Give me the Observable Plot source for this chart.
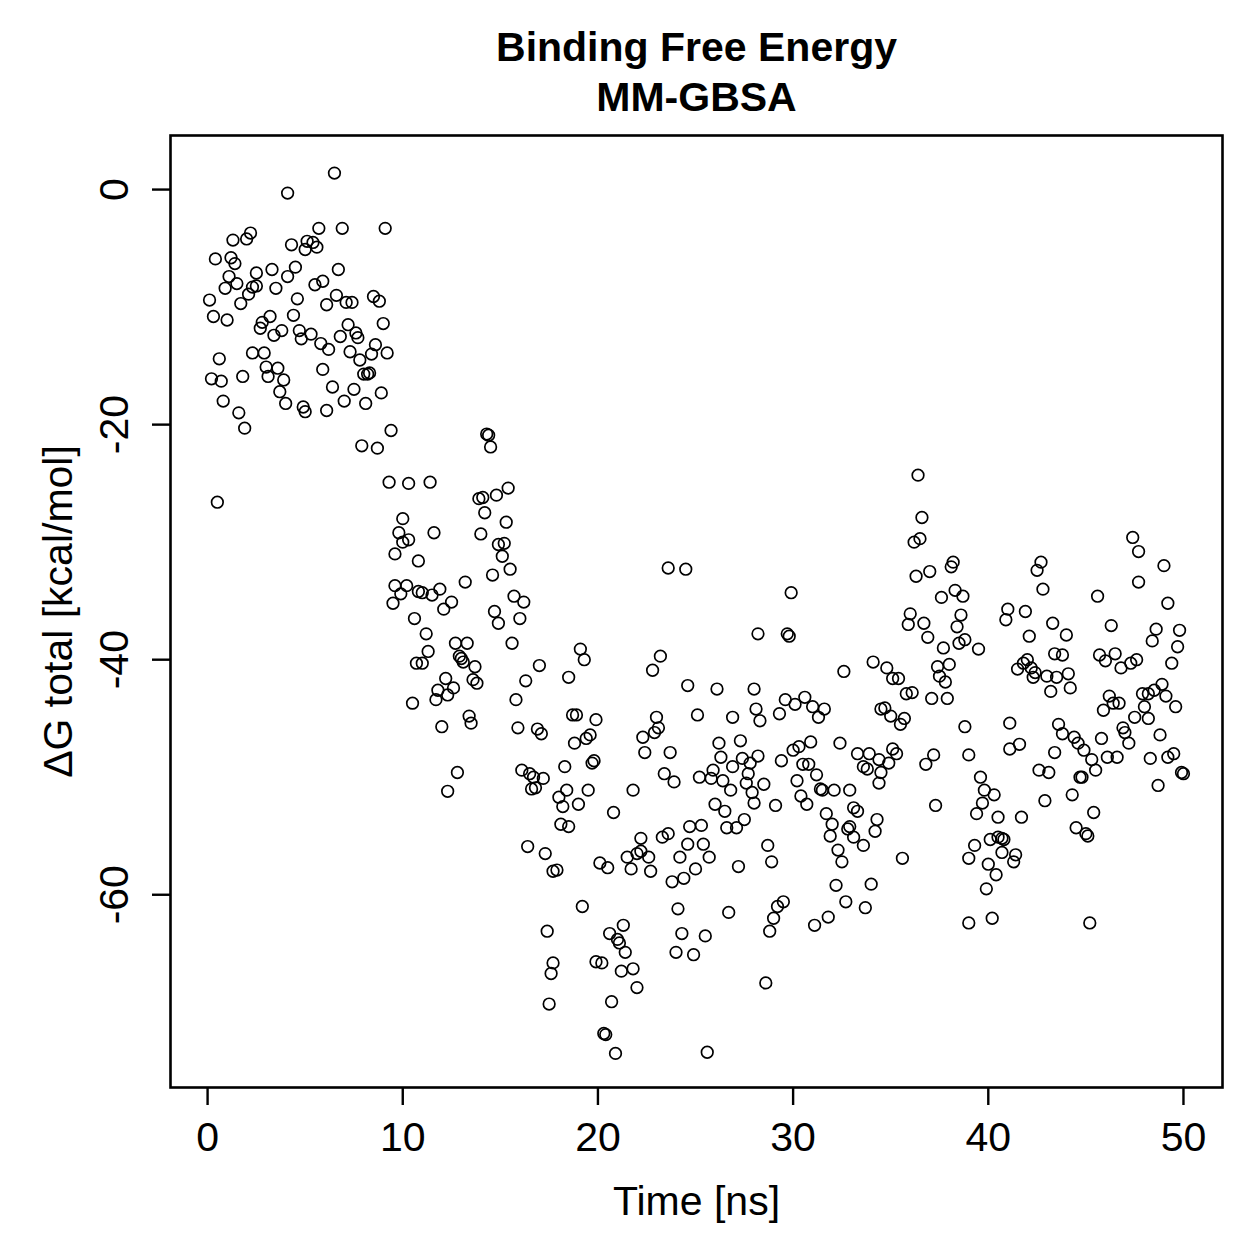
<!DOCTYPE html>
<html>
<head>
<meta charset="utf-8">
<script src="https://cdn.jsdelivr.net/npm/d3@7"></script>
<script src="https://cdn.jsdelivr.net/npm/@observablehq/plot@0.6"></script>
<style>
  html, body { margin: 0; padding: 0; background: #fff; }
  #chart { width: 1259px; height: 1259px; }
</style>
</head>
<body>
<div id="chart"></div>
<script>
const chartTitle = ["Binding Free Energy", "MM-GBSA"];
const xLabel = "Time [ns]";
const yLabel = "ΔG total [kcal/mol]";
const xTicks = [0, 10, 20, 30, 40, 50];
const yTicks = [-60, -40, -20, 0];

// [time (ns), ΔG total (kcal/mol)]
const samples0to10 = [
  [4.1,-0.3],[2.2,-3.7],[2.0,-4.2],[1.3,-4.3],[4.3,-4.7],[0.4,-5.9],[1.2,-5.8],[1.4,-6.3],[4.5,-6.6],[3.3,-6.8],
  [2.5,-7.1],[4.1,-7.4],[1.1,-7.4],[1.5,-8.0],[0.9,-8.4],[2.5,-8.2],[2.3,-8.3],[3.5,-8.4],[2.1,-8.9],[0.1,-9.4],
  [4.6,-9.3],[1.7,-9.7],[0.3,-10.8],[1.0,-11.1],[3.2,-10.8],[2.8,-11.3],[4.4,-10.7],[2.7,-11.8],[3.4,-12.4],[3.8,-12.0],
  [4.7,-12.0],[4.8,-12.7],[5.3,-12.3],[0.6,-14.4],[2.3,-13.9],[2.9,-13.9],[0.2,-16.1],[0.7,-16.3],[1.8,-15.9],[3.0,-15.1],
  [3.1,-15.9],[3.6,-15.2],[3.9,-16.2],[3.7,-17.2],[4.0,-18.2],[0.8,-18.0],[1.6,-19.0],[4.9,-18.5],[5.0,-18.9],[1.9,-20.3],
  [0.5,-26.6],[5.1,-4.4],[5.4,-4.5],[5.6,-4.9],[5.0,-5.1],
  [6.5,1.4],[5.7,-3.3],[6.9,-3.3],[9.1,-3.3],[6.7,-6.8],[5.5,-8.1],[5.9,-7.8],[6.6,-9.0],[6.1,-9.8],[7.1,-9.6],
  [7.4,-9.6],[8.5,-9.1],[8.8,-9.5],[9.0,-11.4],[5.8,-13.1],[6.2,-13.6],[7.2,-11.5],[6.8,-12.5],[7.6,-12.2],[7.7,-12.6],
  [7.3,-13.8],[7.8,-14.5],[8.6,-13.2],[8.4,-14.0],[9.2,-13.9],[8.0,-15.7],[8.2,-15.7],[8.3,-15.6],[5.9,-15.3],[6.4,-16.8],
  [7.5,-17.0],[7.0,-18.0],[8.1,-18.2],[8.9,-17.3],[6.1,-18.8],[9.4,-20.5],[7.9,-21.8],[8.7,-22.0],[9.3,-24.9],[10.3,-25.0],
  [10.0,-28.0]
];
const samples10to16 = [
  [14.3,-20.8],[14.4,-20.9],[14.5,-21.9],[11.4,-24.9],[13.9,-26.3],[14.1,-26.2],[14.8,-26.0],[14.2,-27.5],[15.4,-25.4],[9.8,-29.2],
  [11.6,-29.2],[10.3,-29.8],[10.0,-30.0],[9.6,-31.0],[10.8,-31.6],[14.0,-29.3],[15.3,-28.3],[14.9,-30.2],[15.2,-30.1],[15.1,-31.2],
  [15.5,-32.3],[14.6,-32.8],[13.2,-33.4],[9.6,-33.7],[9.9,-34.4],[10.2,-33.7],[10.8,-34.2],[11.0,-34.3],[11.5,-34.5],[11.9,-34.0],
  [9.5,-35.2],[12.5,-35.1],[12.1,-35.7],[14.7,-35.9],[14.9,-36.9],[15.7,-34.6],[16.2,-35.1],[16.0,-36.5],[10.6,-36.5],[11.2,-37.8],
  [12.7,-38.6],[13.3,-38.6],[12.9,-39.7],[13.0,-39.9],[13.1,-40.2],[11.3,-39.3],[10.7,-40.3],[11.0,-40.3],[13.7,-40.6],[13.6,-41.7],
  [13.8,-42.0],[12.2,-41.6],[12.6,-42.4],[11.8,-42.6],[11.7,-43.4],[12.3,-43.0],[10.5,-43.7],[13.4,-44.8],[13.5,-45.4],[12.0,-45.7],
  [12.8,-49.6],[12.3,-51.2],[15.6,-38.6]
];
const samples16to23 = [
  [19.1,-39.1],[19.3,-40.0],[17.0,-40.5],[16.3,-41.8],[18.5,-41.5],[15.8,-43.4],[15.9,-45.8],[16.9,-45.9],[17.1,-46.3],[18.7,-44.7],
  [18.9,-44.7],[19.9,-45.1],[18.8,-47.1],[19.4,-46.7],[19.6,-46.4],[19.7,-48.8],[19.8,-48.6],[18.3,-49.1],[16.1,-49.4],[16.5,-49.7],
  [16.7,-50.0],[17.2,-50.1],[16.6,-51.0],[16.8,-50.9],[18.0,-51.7],[18.4,-51.1],[18.2,-52.5],[19.0,-52.3],[19.5,-51.1],[18.1,-54.0],
  [18.5,-54.2],
  [22.3,-46.6],[21.8,-51.1],[20.8,-53.0],[16.4,-55.9],[17.3,-56.5],[17.7,-58.0],[17.9,-57.9],[20.1,-57.3],[20.5,-57.7],[21.5,-56.8],
  [21.7,-57.8],[22.0,-56.5],[22.2,-55.2],[22.2,-56.3],[22.6,-56.8],[22.7,-58.0],[19.2,-61.0],[17.4,-63.1],[21.3,-62.6],[20.6,-63.3],
  [21.0,-63.8],[21.1,-64.1],[21.4,-64.9],[17.7,-65.8],[17.6,-66.7],[19.9,-65.7],[20.2,-65.8],[21.2,-66.5],[21.8,-66.3],[22.0,-67.9],
  [17.5,-69.3],[20.7,-69.1],[20.3,-71.8],[20.4,-71.9],[20.9,-73.5]
];
const samples23to29 = [
  [23.6,-32.2],[24.5,-32.3],[28.2,-37.8],[23.2,-39.7],[22.8,-40.9],[24.6,-42.2],[26.1,-42.5],[28.0,-42.5],[28.1,-44.2],[28.3,-45.2],
  [25.1,-44.7],[26.9,-44.9],[23.0,-44.9],[23.1,-45.8],[22.9,-46.2],[22.4,-47.9],[23.7,-47.9],[26.2,-47.1],[26.3,-48.3],[27.3,-46.9],
  [27.4,-48.4],[27.8,-48.8],[27.7,-49.7],[27.6,-50.5],[26.9,-49.1],[25.9,-49.4],[25.2,-50.0],[25.8,-50.1],[26.4,-50.3],[26.8,-51.1],
  [23.4,-49.7],[23.9,-50.4],[27.9,-51.3],[26.0,-52.3],[26.5,-52.9],[24.7,-54.2],[25.3,-54.1],[27.5,-53.6],[26.6,-54.3],[27.1,-54.3],
  [23.3,-55.1],[23.6,-54.8],[24.6,-55.7],[25.4,-55.7],[24.2,-56.8],[25.7,-56.8],[25.0,-57.8],[24.4,-58.6],[23.8,-58.9],[27.2,-57.6],
  [24.1,-61.2],[26.7,-61.5],[24.3,-63.3],[25.5,-63.5],[24.0,-64.9],[24.9,-65.1],[25.6,-73.4]
];
const samples28to35 = [
  [29.9,-34.3],[29.7,-37.8],[29.8,-38.0],[34.1,-40.2],[32.6,-41.0],[29.6,-43.4],[30.1,-43.8],[29.3,-44.6],[30.6,-43.2],[31.0,-44.0],
  [31.6,-44.2],[31.3,-44.9],[34.5,-44.2],[30.9,-47.0],[32.4,-47.1],[30.0,-47.7],[30.3,-47.4],[29.4,-48.6],[30.5,-48.9],[30.8,-48.9],
  [28.2,-48.2],[31.2,-49.8],[30.2,-50.3],[33.3,-48.0],[33.9,-48.0],[33.6,-49.1],[33.8,-49.3],[34.4,-48.5],[34.5,-49.6],[34.4,-50.5],
  [28.5,-50.6],[31.4,-51.0],[31.5,-51.1],[32.1,-51.1],[32.9,-51.1],[30.4,-51.6],[30.7,-52.3],[28.0,-52.2],[29.1,-52.4],[31.7,-53.1],
  [33.1,-52.6],[33.3,-52.9],[32.0,-54.0],[31.9,-55.0],[32.8,-54.4],[32.9,-54.2],[33.1,-55.1],[33.6,-55.8],[34.3,-53.6],[34.2,-54.6],
  [28.7,-55.8],[28.9,-57.2],[32.3,-56.2],[32.5,-57.2],[32.2,-59.2],[34.0,-59.1],[32.7,-60.6],[33.7,-61.1],[29.5,-60.6],[29.2,-61.0],
  [29.0,-62.0],[28.8,-63.1],[31.8,-61.9],[31.1,-62.6],[28.6,-67.5]
];
const samples35to39 = [
  [36.4,-24.3],[36.6,-27.9],[36.2,-30.0],[36.5,-29.7],[38.2,-31.7],[38.1,-32.1],[36.3,-32.9],[37.0,-32.5],[37.6,-34.7],[38.3,-34.1],
  [38.7,-34.6],[38.6,-36.2],[36.0,-36.1],[35.9,-37.0],[36.7,-36.9],[38.4,-37.2],[36.9,-38.1],[38.5,-38.6],[38.8,-38.3],[37.7,-39.0],
  [34.8,-40.7],[35.1,-41.6],[35.4,-41.6],[37.4,-40.6],[38.0,-40.4],[37.5,-41.4],[37.8,-41.9],[35.8,-42.9],[36.1,-42.8],[37.1,-43.3],
  [37.9,-43.3],[34.7,-44.1],[35.0,-44.8],[35.5,-45.5],[35.7,-45.0],[38.8,-45.7],[35.1,-47.6],[35.3,-48.0],[34.9,-48.8],[37.2,-48.1],
  [36.8,-48.9],[39.0,-48.1],[37.3,-52.4],[35.6,-56.9],[39.0,-56.9],[39.0,-62.4]
];
const samples39to44 = [
  [42.7,-31.7],[42.5,-32.4],[42.8,-34.0],[41.0,-35.7],[40.9,-36.6],[41.9,-35.9],[43.3,-36.9],[42.1,-38.0],[39.5,-39.1],[43.4,-39.5],
  [43.8,-39.6],[41.5,-40.8],[41.8,-40.3],[42.0,-40.0],[42.2,-40.7],[42.4,-41.1],[42.3,-41.5],[43.0,-41.4],[43.5,-41.5],[43.2,-42.7],
  [41.1,-45.4],[43.6,-45.5],[43.8,-46.3],[41.1,-47.6],[41.6,-47.2],[43.4,-47.9],[42.6,-49.4],[43.1,-49.6],[39.6,-50.0],[39.8,-51.1],
  [40.3,-51.5],[39.7,-52.2],[39.4,-53.1],[42.9,-52.0],[40.5,-53.4],[41.7,-53.4],[39.3,-55.8],[40.1,-55.3],[40.5,-55.1],[40.7,-55.2],
  [40.8,-55.3],[40.7,-56.4],[41.4,-56.6],[41.3,-57.2],[40.0,-57.4],[40.4,-58.3],[39.9,-59.5],[40.2,-62.0]
];
const samples44to50 = [
  [47.4,-29.6],[47.7,-30.8],[49.0,-32.0],[47.7,-33.4],[45.6,-34.6],[49.2,-35.2],[44.0,-37.9],[46.3,-37.1],[48.6,-37.4],[48.4,-38.4],
  [49.8,-37.5],[49.7,-38.9],[49.4,-40.3],[45.7,-39.6],[46.0,-40.1],[46.5,-39.5],[46.8,-40.7],[47.3,-40.3],[47.6,-40.0],[44.1,-41.2],
  [44.2,-42.4],[46.2,-43.1],[46.4,-43.7],[46.7,-43.7],[45.9,-44.3],[47.9,-42.9],[48.2,-42.9],[48.0,-44.0],[48.5,-42.6],[48.9,-42.1],
  [49.1,-43.1],[49.6,-44.0],[47.5,-44.9],[48.2,-45.0],[44.4,-46.6],[44.6,-47.1],[44.9,-47.7],[45.3,-48.5],[45.5,-49.4],[46.9,-45.8],
  [47.0,-46.2],[47.2,-47.1],[45.8,-46.7],[48.8,-46.4],[46.1,-48.3],[46.6,-48.3],[48.3,-48.4],[49.2,-48.3],[49.5,-48.0],[49.9,-49.6],
  [50.0,-49.7],[44.7,-50.0],[44.8,-50.0],[48.7,-50.7],[44.3,-51.5],[45.4,-53.0],[44.5,-54.3],[45.0,-54.8],[45.1,-55.0],[45.2,-62.4]
];

const samples = [
  ...samples0to10, ...samples10to16, ...samples16to23, ...samples23to29,
  ...samples28to35, ...samples35to39, ...samples39to44, ...samples44to50
].map(([time, dG]) => ({time, dG}));

const font = "'Liberation Sans', Arial, Helvetica, sans-serif";

const chart = Plot.plot({
  width: 1259,
  height: 1259,
  marginTop: 135,
  marginRight: 37,
  marginBottom: 172,
  marginLeft: 170,
  x: {domain: [-1.9, 52.0], axis: null},
  y: {domain: [-76.4, 4.6], axis: null},
  style: {fontFamily: font, background: "white", color: "black", overflow: "visible"},
  marks: [
    Plot.axisX({ticks: xTicks, tickSize: 18, tickFormat: () => "", strokeWidth: 2.4, label: null}),
    Plot.axisY({ticks: yTicks, tickSize: 18, tickFormat: () => "", strokeWidth: 2.4, label: null}),
    Plot.frame({stroke: "black", strokeWidth: 2.6}),
    Plot.dot(samples, {x: "time", y: "dG", r: 5.8, stroke: "black", fill: "none", strokeWidth: 1.7}),
    Plot.text(xTicks, {x: d => d, text: d => String(d), frameAnchor: "bottom", dy: 50, fontSize: 41, lineAnchor: "middle", textAnchor: "middle"}),
    Plot.text(yTicks, {y: d => d, text: d => String(d), frameAnchor: "left", dx: -56, rotate: -90, fontSize: 41, lineAnchor: "middle", textAnchor: "middle"}),
    Plot.text([xLabel], {text: d => d, frameAnchor: "bottom", dy: 114, fontSize: 41, lineAnchor: "middle", textAnchor: "middle"}),
    Plot.text([yLabel], {text: d => d, frameAnchor: "left", dx: -112, rotate: -90, fontSize: 41, lineAnchor: "middle", textAnchor: "middle"}),
    Plot.text([chartTitle[0]], {text: d => d, frameAnchor: "top", dy: -88, fontSize: 41, fontWeight: "bold", lineAnchor: "middle", textAnchor: "middle"}),
    Plot.text([chartTitle[1]], {text: d => d, frameAnchor: "top", dy: -38, fontSize: 41, fontWeight: "bold", lineAnchor: "middle", textAnchor: "middle"})
  ]
});
document.getElementById("chart").appendChild(chart);
</script>
</body>
</html>
